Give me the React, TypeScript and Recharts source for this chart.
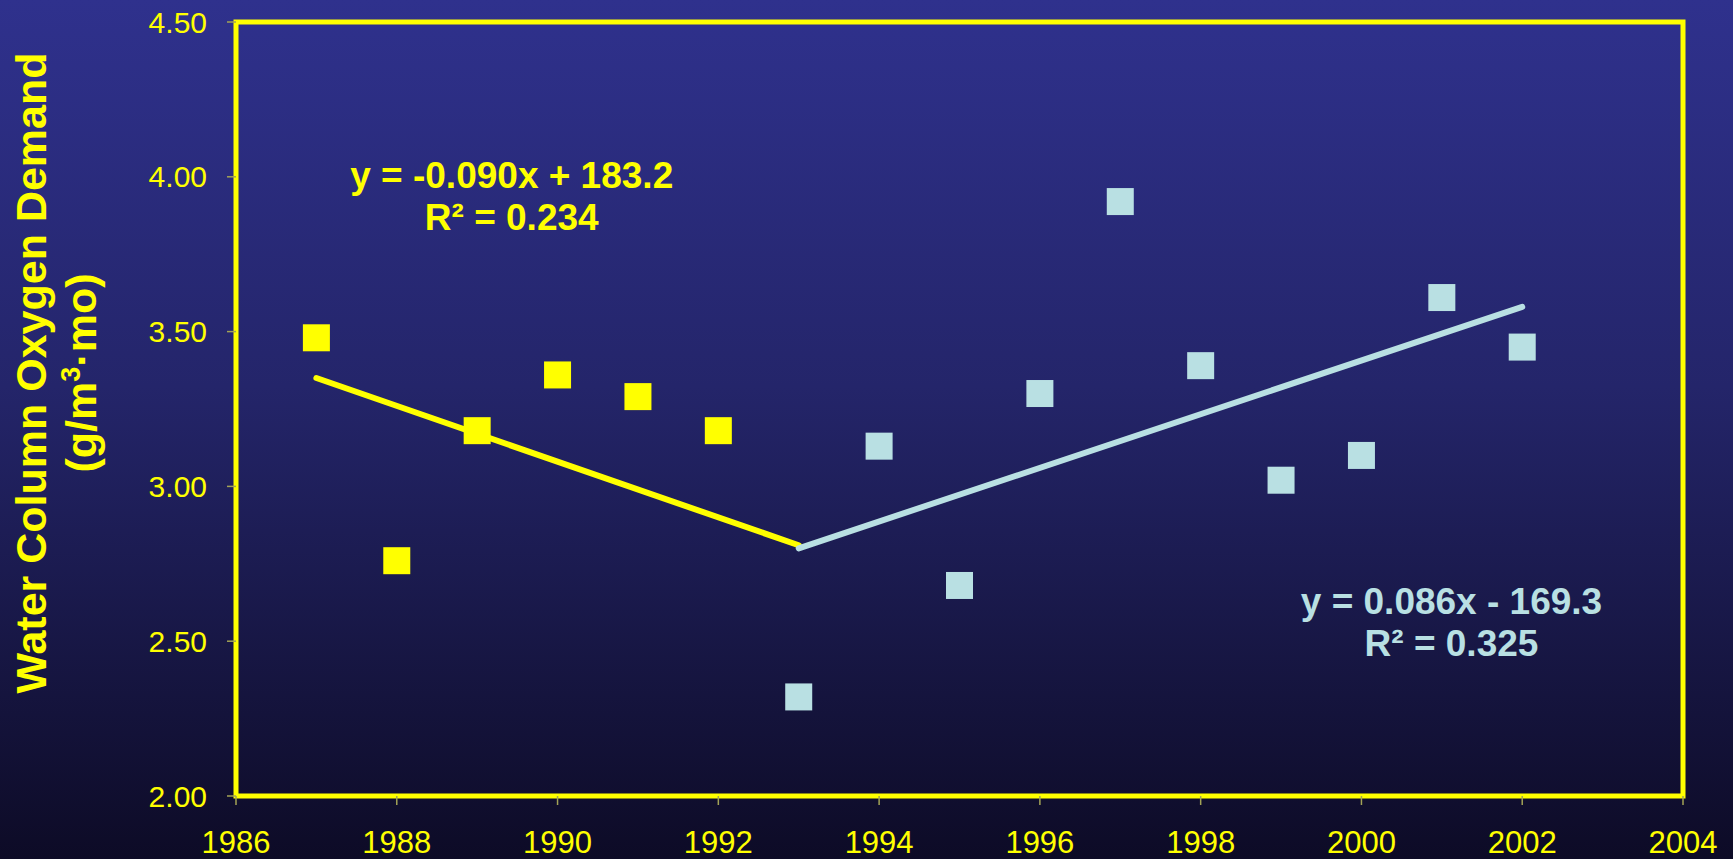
import React from 'react';
import {
  ComposedChart,
  Scatter,
  Line,
  XAxis,
  YAxis,
  ReferenceArea,
  ReferenceDot,
} from 'recharts';

// Early period (yellow) and later period (light blue) observations
const earlyYears = [1987, 1988, 1989, 1990, 1991, 1992];
const earlyValues = [3.48, 2.76, 3.18, 3.36, 3.29, 3.18];

const lateYears = [1993, 1994, 1995, 1996, 1997, 1998, 1999, 2000, 2001, 2002];
const lateValues = [2.32, 3.13, 2.68, 3.30, 3.92, 3.39, 3.02, 3.10, 3.61, 3.45];

// Linear trend end points for each period
const earlyTrendYears = [1987, 1993];
const earlyTrendValues = [3.35, 2.81];
const lateTrendYears = [1993, 2002];
const lateTrendValues = [2.8, 3.58];

const xTicks = [1986, 1988, 1990, 1992, 1994, 1996, 1998, 2000, 2002, 2004];
const yTicks = [2.0, 2.5, 3.0, 3.5, 4.0, 4.5];

const earlyEquation = ['y = -0.090x + 183.2', 'R² = 0.234'];
const lateEquation = ['y = 0.086x - 169.3', 'R² = 0.325'];

const YELLOW = '#ffff00';
const LIGHT_BLUE = '#b9e0e3';
const FONT = '"Liberation Sans", Arial, sans-serif';

const toPoints = (xs: number[], ys: number[]) => xs.map((year, i) => ({ year, value: ys[i] }));

const earlyData = toPoints(earlyYears, earlyValues);
const lateData = toPoints(lateYears, lateValues);
const earlyTrend = toPoints(earlyTrendYears, earlyTrendValues);
const lateTrend = toPoints(lateTrendYears, lateTrendValues);

const squareShape = (fill: string) => (props: any) => (
  <rect x={props.cx - 13.5} y={props.cy - 13.5} width={27} height={27} fill={fill} />
);

// Two-line regression label centred on an anchor point
const equationLabel = (lines: string[], fill: string) => (props: any) => {
  const { viewBox } = props;
  const x = viewBox.x + (viewBox.width || 0) / 2;
  const y = viewBox.y + (viewBox.height || 0) / 2;
  return (
    <text x={x} y={y} textAnchor="middle" fill={fill} fontFamily={FONT} fontWeight="bold" fontSize={37}>
      <tspan x={x} dy={0}>{lines[0]}</tspan>
      <tspan x={x} dy={42}>{lines[1]}</tspan>
    </text>
  );
};

const AxisTitle = () => (
  <g fill={YELLOW} fontFamily={FONT} fontWeight="bold" fontSize={43}>
    <text transform="translate(46,373) rotate(-90)" textAnchor="middle">
      Water Column Oxygen Demand
    </text>
    <text transform="translate(96,373) rotate(-90)" textAnchor="middle">
      (g/m<tspan fontSize={27} dy={-16}>3</tspan>
      <tspan dy={16}>·mo)</tspan>
    </text>
  </g>
);

export default function App() {
  return (
    <div
      style={{
        position: 'absolute',
        left: 0,
        top: 0,
        width: 1733,
        height: 859,
        background: 'linear-gradient(to bottom, #2f318d 0%, #24256a 45%, #0d0b26 100%)',
      }}
    >
      <ComposedChart
        width={1733}
        height={859}
        margin={{ top: 22, right: 50, bottom: 13, left: 106 }}
      >
        <XAxis
          type="number"
          dataKey="year"
          domain={[1986, 2004]}
          ticks={xTicks}
          allowDataOverflow
          axisLine={false}
          tickLine={{ stroke: '#a3a356', strokeWidth: 1.5 }}
          tickSize={9}
          tickMargin={26}
          height={50}
          tick={{ fill: YELLOW, fontSize: 31, fontFamily: FONT }}
        />
        <YAxis
          type="number"
          dataKey="value"
          domain={[2, 4.5]}
          ticks={yTicks}
          allowDataOverflow
          axisLine={false}
          tickLine={{ stroke: '#a3a356', strokeWidth: 1.5 }}
          tickSize={9}
          tickMargin={20}
          width={130}
          tickFormatter={(v: number) => v.toFixed(2)}
          tick={{ fill: YELLOW, fontSize: 30, fontFamily: FONT }}
        />
        <ReferenceArea
          x1={1986}
          x2={2004}
          y1={2}
          y2={4.5}
          fill="none"
          fillOpacity={0}
          stroke={YELLOW}
          strokeWidth={5}
          ifOverflow="visible"
        />
        <Line
          data={earlyTrend}
          dataKey="value"
          stroke={YELLOW}
          strokeWidth={6}
          strokeLinecap="round"
          dot={false}
          activeDot={false}
          isAnimationActive={false}
        />
        <Line
          data={lateTrend}
          dataKey="value"
          stroke={LIGHT_BLUE}
          strokeWidth={6}
          strokeLinecap="round"
          dot={false}
          activeDot={false}
          isAnimationActive={false}
        />
        <Scatter data={earlyData} dataKey="value" shape={squareShape(YELLOW)} isAnimationActive={false} />
        <Scatter data={lateData} dataKey="value" shape={squareShape(LIGHT_BLUE)} isAnimationActive={false} />
        <ReferenceDot
          x={1989.43}
          y={3.964}
          r={0}
          fill="none"
          stroke="none"
          label={equationLabel(earlyEquation, YELLOW)}
        />
        <ReferenceDot
          x={2001.12}
          y={2.588}
          r={0}
          fill="none"
          stroke="none"
          label={equationLabel(lateEquation, LIGHT_BLUE)}
        />
      </ComposedChart>
      <svg width={1733} height={859} style={{ position: 'absolute', left: 0, top: 0, pointerEvents: 'none' }}>
        <AxisTitle />
      </svg>
    </div>
  );
}
